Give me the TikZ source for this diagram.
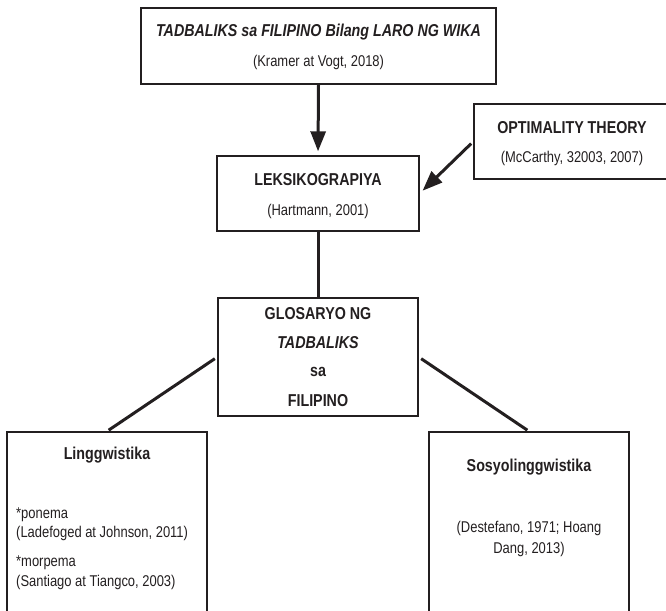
\documentclass[tikz,border=0pt]{standalone}
\usepackage{fontspec}
\setmainfont{Liberation Sans}[FakeStretch=0.83]
\usetikzlibrary{arrows.meta}
\definecolor{ink}{HTML}{231F20}
\tikzset{
  box/.style={draw=ink, line width=1.4pt, rectangle, inner sep=0pt},
  bt/.style={text=ink, inner sep=0pt, font=\fontsize{17.2}{20}\selectfont\bfseries},
  rt/.style={text=ink, inner sep=0pt, font=\fontsize{15.6}{18}\selectfont},
  arr/.style={draw=ink, line width=3pt, -{Triangle[width=15pt,length=20pt]}},
  ln/.style={draw=ink, line width=3pt}
}
\begin{document}
\begin{tikzpicture}[x=1pt,y=-1pt]
\useasboundingbox (0,0) rectangle (666,610);
% boxes
\node[box, minimum width=355pt, minimum height=76pt] (top) at (318.5,46) {};
\node[box, minimum width=202pt, minimum height=75pt] (leks) at (318,193.5) {};
\node[box, minimum width=196pt, minimum height=75pt] (opt) at (572,141.5) {};
\node[box, minimum width=200pt, minimum height=118pt] (glos) at (318,357) {};
\node[box, minimum width=200pt, minimum height=188pt] (ling) at (107,526) {};
\node[box, minimum width=200pt, minimum height=188pt] (sosyo) at (529,526) {};
% texts
\node[bt] (t1) at (318.5,32) {\itshape TADBALIKS sa FILIPINO Bilang LARO NG WIKA};
\node[rt] (t2) at (318.5,62) {(Kramer at Vogt, 2018)};
\node[bt] (o1) at (572,128) {OPTIMALITY THEORY};
\node[rt] (o2) at (572,158) {(McCarthy, 32003, 2007)};
\node[bt] (l1) at (318,180) {LEKSIKOGRAPIYA};
\node[rt] (l2) at (318,211) {(Hartmann, 2001)};
\node[bt] (g1) at (318,314) {GLOSARYO NG};
\node[bt] (g2) at (318,343) {\itshape TADBALIKS};
\node[bt] (g3) at (318,372) {sa};
\node[bt] (g4) at (318,401) {FILIPINO};
\node[bt] (a1) at (107,455) {Linggwistika};
\node[rt, anchor=west] (a2) at (16,515) {*ponema};
\node[rt, anchor=west] (a3) at (16,533) {(Ladefoged at Johnson, 2011)};
\node[rt, anchor=west] (a4) at (16,563) {*morpema};
\node[rt, anchor=west] (a5) at (16,582) {(Santiago at Tiangco, 2003)};
\node[bt] (s1) at (529,467) {Sosyolinggwistika};
\node[rt] (s2) at (529,528) {(Destefano, 1971; Hoang};
\node[rt] (s3) at (529,549) {Dang, 2013)};
% connectors
\draw[arr, shorten >=4pt] (top.south) -- (leks.north);
\draw[arr, shorten <=3pt, shorten >=4pt] (opt.west) -- (leks.east);
\draw[ln] (leks.south) -- (glos.north);
\draw[ln, shorten <=3pt, shorten >=2pt] (glos.west) -- (ling.north);
\draw[ln, shorten <=3pt, shorten >=2pt] (glos.east) -- (sosyo.north);
\end{tikzpicture}
\end{document}
